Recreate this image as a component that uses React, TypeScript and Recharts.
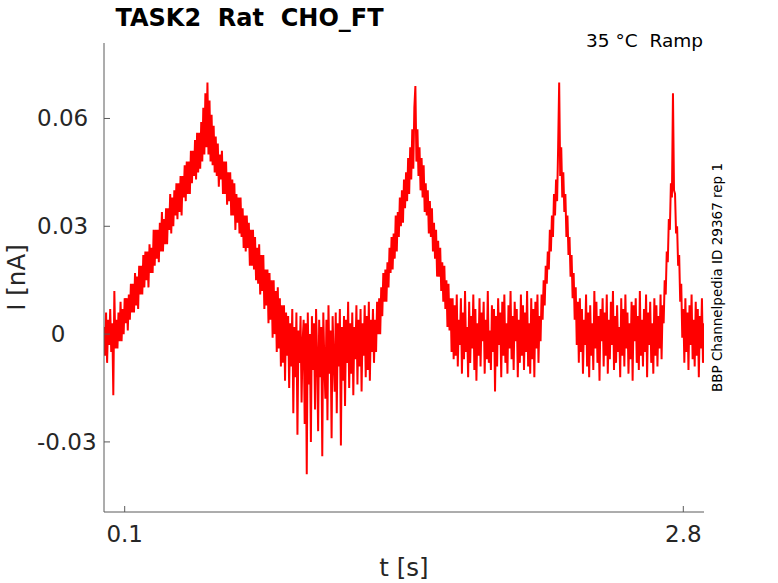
import React from 'react';
import { LineChart, Line, XAxis, YAxis } from 'recharts';

// sampling step of the trace (s)
const SAMPLE_DT = 0.005;

// current in pA
const baselineStart = [2, -6, 6, -8, 4, -3, 7, -5, 3, -17, 12, -4];
const ramp1Up = [
  4, -4, 6, -2, 9, -2, 7, 0, 10, 3, 10, 1, 11, 4, 14, 6, 14, 6, 17, 8,
  16, 7, 19, 11, 19, 11, 22, 13, 23, 15, 23, 13, 25, 17, 24, 17, 29, 19, 29, 21,
  29, 20, 31, 23, 34, 23, 32, 25, 35, 25, 35, 29, 39, 28, 38, 30, 40, 33, 42, 32,
  42, 34, 44, 33, 44, 38, 47, 37, 48, 39, 48, 39, 51, 42, 51, 44, 54, 43, 56, 45,
  56, 46, 59, 48, 63, 50, 67, 52, 70,
];
const ramp1Down = [
  50, 65, 48, 61, 47, 58, 45, 55, 44, 53, 41, 50, 43, 51, 39, 48, 39, 48, 36, 45,
  37, 45, 33, 43, 33, 42, 29, 39, 31, 38, 28, 38, 27, 35, 24, 33, 23, 33, 24, 31,
  19, 29, 19, 29, 18, 27, 15, 24, 14, 25, 11, 22, 12, 22, 7, 18, 8, 18, 3, 17,
  4, 15, -1, 15, 0, 12, -5, 13, -4, 10, -9, 8, -8, 8, -13, 6,
];
const trough = [
  -6, 5, -15, 3, -9, 7, -22, 2, -12, 6, -28, 1, -8, 5, -19, -2, 4, -25, 3, -39,
  6, -14, 0, -30, 5, -10, 3, -21, 7, -6, -27, 4, -12, 2, -34, 6, -8, -18, 4, -24,
  8, -11, 1, -29, 5, -7, -16, 6, -22, 3, -9, 7, -31, 2, -13, 5, -20, 4, -8, 9,
  -15, 3, -11, 6, -17, 2, -7, 8, -14, 4, -9, 7, -16, 3, -6, 8, -12, 5, -10, 9,
  -13, 4, -5, 7, -8,
];
const ramp2Up = [
  4, -5, 9, 0, 10, 0, 13, 5, 17, 9, 18, 9, 20, 13, 24, 17, 27, 18, 28, 21,
  33, 23, 34, 27, 38, 30, 40, 31, 43, 35, 45, 37, 49, 39, 52, 43, 57, 46, 63, 69,
];
const ramp2Down = [
  48, 57, 44, 52, 40, 49, 38, 47, 34, 42, 33, 40, 28, 37, 27, 35, 23, 31, 21, 29,
  16, 26, 16, 24, 12, 20, 9, 19, 7, 15, 2, 14, 1, 10, -5, 10, -7,
];
const flat1 = [
  8, -6, 11, -9, 4, -3, 10, -11, 6, -7, 12, -5, 2, -12, 9, -8, 5, -4, 11, -10,
  7, -13, 3, -6, 10, -9, 6, -2, 9, -11, 4, -7, 12, -8, 1, -10, 8, -5, 7, -16,
  5, -9, 10, -3, 6, -12, 9, -6, 11, -8, 3, -11, 8, -4, 12, -7, 5, -10, 9, -2,
  7, -12, 4, -8, 11, -6, 8, -10, 6, -5, 12, -9, 3, -11, 10, -7, 7, -12, 9, -4,
  11, -8, 5,
];
const ramp3Up = [-2, 11, 4, 15, 8, 19, 14, 23, 18, 29, 23, 33, 27, 39, 33, 43, 37, 52, 70];
const ramp3Down = [44, 52, 38, 45, 34, 39, 27, 33, 22, 27, 16, 22, 10, 17, 4, 13, -3, 9];
const flat2 = [
  -8, 10, -5, 7, -11, 4, -3, 11, -9, 6, -12, 8, -6, 3, -10, 12, -4, 9, -8, 5,
  -13, 7, -2, 10, -9, 6, -6, 11, -11, 4, -7, 9, -3, 12, -10, 5, -8, 8, -5, 2,
  -12, 10, -6, 7, -9, 11, -4, 6, -11, 3, -7, 9, -13, 8, -2, 10, -8, 5, -10, 12,
  -6, 4, -9, 7, -5, 11, -12, 6, -3, 9, -8, 3, -11, 10, -6, 8, -9, 5, -4, 11,
  -7,
];
const peak4 = [8, 3, 15, 11, 23, 20, 32, 29, 42, 38, 67, 40, 39, 28, 30, 19, 22, 9, 14, -1, 7];
const flatEnd = [-8, 10, -5, 6, -10, 8, -3, 11, -7, 4, -9, 9, -6, 7, -12, 5, -4, 10, -8, 3];

const X_TICKS = [0.1, 2.8];
const Y_TICKS = [-0.03, 0, 0.03, 0.06];

const trace = [
  ...baselineStart, ...ramp1Up, ...ramp1Down, ...trough, ...ramp2Up, ...ramp2Down,
  ...flat1, ...ramp3Up, ...ramp3Down, ...flat2, ...peak4, ...flatEnd,
].map((pA, i) => ({ t: +(i * SAMPLE_DT).toFixed(3), current: pA / 1000 }));

const AXIS = '#5a5a5a';
const TEXT = '#262626';
const FONT = '"DejaVu Sans", sans-serif';

const YTick = ({ x, y, payload }: any) => {
  const zero = payload.value === 0;
  return (
    <g>
      <line x1={x} x2={x + 6} y1={y} y2={y} stroke={AXIS} />
      <text
        x={zero ? x - 46 : x - 67}
        y={y + 8}
        textAnchor={zero ? 'middle' : 'start'}
        fontSize={23}
        fontFamily={FONT}
        fill={TEXT}
      >
        {payload.value}
      </text>
    </g>
  );
};

const XTick = ({ x, y, payload }: any) => (
  <g>
    <line x1={x} x2={x} y1={y} y2={y - 6} stroke={AXIS} />
    <text x={x} y={y + 30} textAnchor="middle" fontSize={23} fontFamily={FONT} fill={TEXT}>
      {payload.value}
    </text>
  </g>
);

export default function App() {
  return (
    <div style={{ position: 'absolute', left: 0, top: 0, width: 778, height: 583, background: '#fff' }}>
      <LineChart width={778} height={583} data={trace} margin={{ top: 43, right: 74, left: 44, bottom: 31 }}>
        <XAxis
          type="number"
          dataKey="t"
          domain={[0, 2.9]}
          ticks={X_TICKS}
          interval={0}
          allowDataOverflow
          height={40}
          tickSize={0}
          tickMargin={0}
          tick={<XTick />}
          stroke={AXIS}
        />
        <YAxis
          type="number"
          domain={[-0.0495, 0.081]}
          ticks={Y_TICKS}
          interval={0}
          allowDataOverflow
          width={60}
          tickSize={0}
          tickMargin={0}
          tick={<YTick />}
          stroke={AXIS}
        />
        <Line
          type="linear"
          dataKey="current"
          stroke="#ff0000"
          strokeWidth={2}
          strokeLinejoin="miter"
          dot={false}
          isAnimationActive={false}
        />
      </LineChart>
      <svg width={778} height={583} style={{ position: 'absolute', left: 0, top: 0, pointerEvents: 'none' }}>
        <text x={249.5} y={25.5} textAnchor="middle" fontSize={24} fontWeight="bold" fontFamily={FONT} fill="#000">
          TASK2{'\u00a0\u00a0'}Rat{'\u00a0\u00a0'}CHO_FT
        </text>
        <text x={703} y={47} textAnchor="end" fontSize={18.5} fontFamily={FONT} fill="#000">
          35 °C{'\u00a0\u00a0'}Ramp
        </text>
        <text
          x={722}
          y={277.5}
          transform="rotate(-90 722 277.5)"
          textAnchor="middle"
          fontSize={13.5}
          fontFamily={FONT}
          fill="#000"
        >
          BBP Channelpedia ID 29367 rep 1
        </text>
        <text
          x={25}
          y={277.5}
          transform="rotate(-90 25 277.5)"
          textAnchor="middle"
          fontSize={24.5}
          fontFamily={FONT}
          fill={TEXT}
        >
          I [nA]
        </text>
        <text x={404} y={576} textAnchor="middle" fontSize={24.5} fontFamily={FONT} fill={TEXT}>
          t [s]
        </text>
      </svg>
    </div>
  );
}
